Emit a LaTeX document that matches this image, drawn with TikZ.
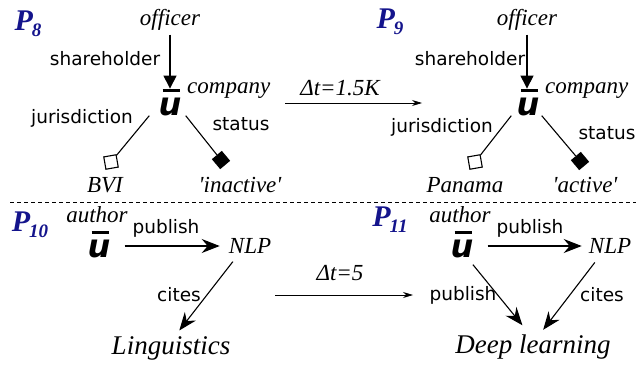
\documentclass[tikz,border=0pt]{standalone}
\usepackage{fontspec}
\setmainfont{Liberation Serif}[Ligatures=TeXOff]
\newfontfamily\dv{DejaVu Sans}
\usetikzlibrary{arrows.meta}
\definecolor{pnavy}{RGB}{20,20,140}
\newcommand{\ubar}{\vbox{\offinterlineskip\hbox to 23pt{\hskip 4pt\rule{17pt}{3.2pt}\hss}\kern5.5pt\hbox{\dv\bfseries\itshape u}}}
\newcommand{\pnum}[2]{#1\kern-1pt\raisebox{-6pt}{\fontsize{19}{19}\selectfont #2}}
\tikzset{
 it/.style={font=\fontsize{23}{25}\selectfont\itshape, inner sep=0pt},
 big/.style={font=\fontsize{27}{30}\selectfont\itshape, inner sep=0pt},
 lab/.style={font=\dv\fontsize{18.5}{20}\selectfont, inner sep=0pt},
 pn/.style={font=\fontsize{30}{32}\selectfont\bfseries\itshape, text=pnavy, inner sep=0pt},
 ub/.style={font=\fontsize{32}{34}\selectfont, inner sep=0pt, anchor=base},
 ln/.style={line width=1.1pt},
 harr/.style={line width=1.1pt, -{Triangle[length=13pt,width=13pt]}},
 sarr/.style={line width=1.1pt, -{Stealth[length=18pt,width=14pt,inset=6pt]}},
 tarr/.style={line width=0.8pt, -{Stealth[length=10pt,width=6pt]}},
 sqr/.style={draw, line width=1.1pt, minimum size=12.5pt, inner sep=0pt, rotate=10},
 dmd/.style={fill, minimum size=13pt, inner sep=0pt, rotate=40},
}
\begin{document}
\begin{tikzpicture}[x=1pt,y=-1pt]
\useasboundingbox (0,0) rectangle (636,367);
% ---------- P8 ----------
\node[pn] (p8) at (28,24) {\pnum{P}{8}};
\node[it] (of1) at (170,20) {officer};
\node[ub] (u1) at (170,115) {\ubar};
\draw[harr, shorten <=4pt] (of1.south) -- (of1.south |- u1.north);
\node[lab] (sh1) at (105,59) {shareholder};
\node[it, anchor=west] (co1) at (187,91) {company};
\node[lab] (ju1) at (82,118) {jurisdiction};
\node[lab] (st1) at (241,124) {status};
\node[sqr] (sq1) at (111,162) {};
\node[dmd] (dm1) at (221,160) {};
\draw[ln] ([xshift=-9pt]u1.south west) -- (sq1);
\draw[ln] ([xshift=4pt]u1.south east) -- (dm1);
\node[it] (bvi) at (105,185) {BVI};
\node[it] (ina) at (240,185) {'inactive'};
% ---------- transition 1 ----------
\node[it] (dt1) at (340,88) {Δt=1.5K};
\coordinate (a1s) at (285,103);
\coordinate (a1e) at (422,103);
\draw[tarr] (a1s) -- (a1e);
% ---------- P9 ----------
\node[pn] (p9) at (390,22) {\pnum{P}{9}};
\node[it] (of2) at (527,20) {officer};
\node[ub] (u2) at (528,115) {\ubar};
\draw[harr, shorten <=4pt] (of2.south) -- (of2.south |- u2.north);
\node[lab] (sh2) at (470,59) {shareholder};
\node[it, anchor=west] (co2) at (545,91) {company};
\node[lab] (ju2) at (442,127) {jurisdiction};
\node[lab] (st2) at (607,133) {status};
\node[sqr] (sq2) at (475,162) {};
\node[dmd] (dm2) at (580,161) {};
\draw[ln] ([xshift=-5pt]u2.south west) -- (sq2);
\draw[ln] ([xshift=2pt]u2.south east) -- (dm2);
\node[it] (pan) at (465,185) {Panama};
\node[it] (act) at (585,185) {'active'};
% ---------- separator ----------
\coordinate (sep0) at (10,202);
\coordinate (sep1) at (636,202);
\draw[line width=0.8pt, dash pattern=on 4pt off 3pt] (sep0) -- (sep1);
% ---------- P10 ----------
\node[pn] (p10) at (30,225) {\pnum{P}{10}};
\node[it] (au1) at (97,215) {author};
\node[ub] (u3) at (99,257) {\ubar};
\node[it] (nlp1) at (250,246) {NLP};
\node[lab] (pb1) at (166,228) {publish};
\draw[sarr, shorten <=14pt, shorten >=9pt] (u3.east |- nlp1.west) -- (nlp1.west);
\node[big] (li) at (171,348) {Linguistics};
\draw[sarr, shorten <=10pt, shorten >=7pt] ([xshift=-11pt]nlp1.south) -- ([xshift=4pt]li.north);
\node[lab] (ci1) at (179,295) {cites};
% ---------- transition 2 ----------
\node[it] (dt2) at (340,273) {Δt=5};
\coordinate (a2s) at (275,295);
\coordinate (a2e) at (413,295);
\draw[tarr] (a2s) -- (a2e);
% ---------- P11 ----------
\node[pn] (p11) at (390,220) {\pnum{P}{11}};
\node[it] (au2) at (460,215) {author};
\node[ub] (u4) at (462,257) {\ubar};
\node[it] (nlp2) at (610,246) {NLP};
\node[lab] (pb2) at (530,228) {publish};
\draw[sarr, shorten <=14pt, shorten >=7pt] (u4.east |- nlp2.west) -- (nlp2.west);
\node[big] (dl) at (533,347) {Deep learning};
\draw[sarr, shorten <=9pt, shorten >=12pt] ([xshift=-6.5pt]u4.south east) -- ([xshift=-3pt]dl.north);
\draw[sarr, shorten <=11pt, shorten >=6pt] ([xshift=-8.5pt]nlp2.south) -- ([xshift=6.5pt]dl.north);
\node[lab] (pb3) at (463,295) {publish};
\node[lab] (ci2) at (602,295) {cites};
\end{tikzpicture}
\end{document}
